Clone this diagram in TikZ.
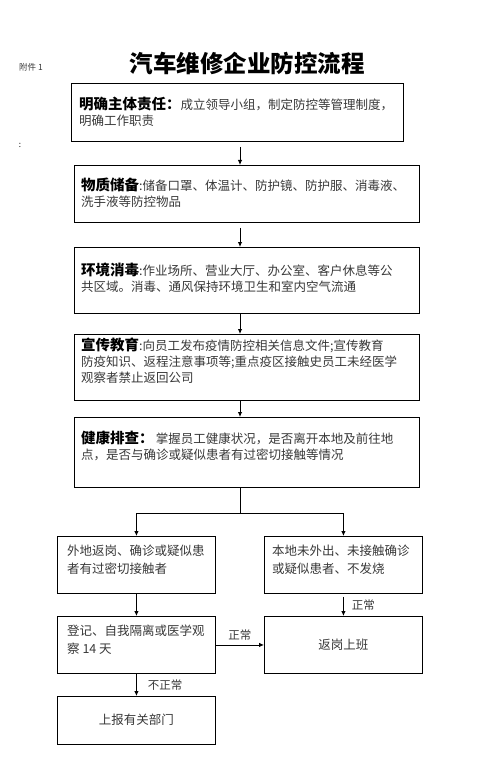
\documentclass[tikz,border=0pt]{standalone}
\usepackage{fontspec}
\setmainfont{Noto Sans CJK SC}
\usetikzlibrary{positioning,arrows.meta}

\tikzset{
  box/.style={draw, line width=0.9pt, inner sep=0pt, anchor=north west},
  txt/.style={anchor=north west, align=left, inner sep=0pt, text=black!78,
    font=\fontsize{12.5}{16}\selectfont},
  lbl/.style={inner sep=0pt, text=black!78, font=\fontsize{11.5}{14}\selectfont},
  arr/.style={-{Latex[length=5pt,width=4.5pt]}, line width=0.9pt},
}
\newcommand{\hdtxt}[1]{{\fontsize{14.5}{16}\selectfont\bfseries\color{black}#1}}

\begin{document}
\begin{tikzpicture}[x=1pt,y=-1pt]
\useasboundingbox (0,0) rectangle (478,759);

\node[inner sep=0pt, font=\fontsize{23.5}{26}\selectfont\bfseries] (title) at (247,63) {汽车维修企业防控流程};
\node[inner sep=0pt, font=\fontsize{8.5}{10}\selectfont, text=black!78] (fujian) at (31,67) {附件 1};
\node[inner sep=0pt, font=\fontsize{8}{10}\selectfont] (dot) at (20,145) {:};

\coordinate (mid) at (240,0);

% main column
\node[box, minimum width=332pt, minimum height=58pt] (zeren) at (71,83) {};
\node[txt] at (79,97) {\hdtxt{明确主体责任：}成立领导小组，制定防控等管理制度，\\明确工作职责};

\node[box, minimum width=345pt, minimum height=57pt] (wuzi) at (74,165) {};
\node[txt] at (81,178) {\hdtxt{物质储备}:储备口罩、体温计、防护镜、防护服、消毒液、\\洗手液等防控物品};

\node[box, minimum width=345pt, minimum height=66pt] (xiaodu) at (74,247) {};
\node[txt] at (81,263) {\hdtxt{环境消毒}:作业场所、营业大厅、办公室、客户休息等公\\共区域。消毒、通风保持环境卫生和室内空气流通};

\node[box, minimum width=345pt, minimum height=66pt] (xuanchuan) at (74,334) {};
\node[txt] at (81,338) {\hdtxt{宣传教育}:向员工发布疫情防控相关信息文件;宣传教育\\防疫知识、返程注意事项等;重点疫区接触史员工未经医学\\观察者禁止返回公司};

\node[box, minimum width=345pt, minimum height=70pt] (paicha) at (74,417) {};
\node[txt] at (81,431) {\hdtxt{健康排查：}\,掌握员工健康状况，是否离开本地及前往地\\点，是否与确诊或疑似患者有过密切接触等情况};

% branches
\node[box, minimum width=158pt, minimum height=57pt] (waidi) at (57,536) {};
\node[txt, font=\fontsize{12.5}{18}\selectfont] at (67,545) {外地返岗、确诊或疑似患\\者有过密切接触者};

\node[box, minimum width=158pt, minimum height=57pt] (bendi) at (264,536) {};
\node[txt, font=\fontsize{12.5}{18}\selectfont] at (272,545) {本地未外出、未接触确诊\\或疑似患者、不发烧};

\node[box, minimum width=158pt, minimum height=57pt] (geli) at (57,616) {};
\node[txt, font=\fontsize{12.5}{18}\selectfont] at (67,625) {登记、自我隔离或医学观\\察 14 天};

\node[box, minimum width=158pt, minimum height=57pt] (fangang) at (264,616) {};
\node[lbl, font=\fontsize{12.5}{14}\selectfont] at (fangang.center) {返岗上班};

\node[box, minimum width=158pt, minimum height=48pt] (shangbao) at (57,696) {};
\node[lbl, font=\fontsize{12.5}{14}\selectfont] at ([yshift=1pt]shangbao.center) {上报有关部门};

% arrows
\draw[arr, shorten <=5pt] (zeren.south -| mid) -- (wuzi.north -| mid);
\draw[arr, shorten <=5pt] (wuzi.south -| mid) -- (xiaodu.north -| mid);
\draw[arr] (xiaodu.south -| mid) -- (xuanchuan.north -| mid);
\draw[arr] (xuanchuan.south -| mid) -- (paicha.north -| mid);
\coordinate (fork) at (240,513);
\draw[line width=0.9pt] (paicha.south -| mid) -- (fork);
\draw[arr] (fork) -| (waidi.north);
\draw[arr] (fork) -| (bendi.north);
\draw[arr] (waidi.south) -- (geli.north);
\draw[arr, shorten <=3pt] (bendi.south) -- node[lbl, right=8pt] {正常} (fangang.north);
\draw[arr] (geli.east) -- node[lbl, above=4pt] {正常} (fangang.west);
\draw[arr] (geli.south) -- node[lbl, right=11pt] {不正常} (shangbao.north);
\end{tikzpicture}
\end{document}
